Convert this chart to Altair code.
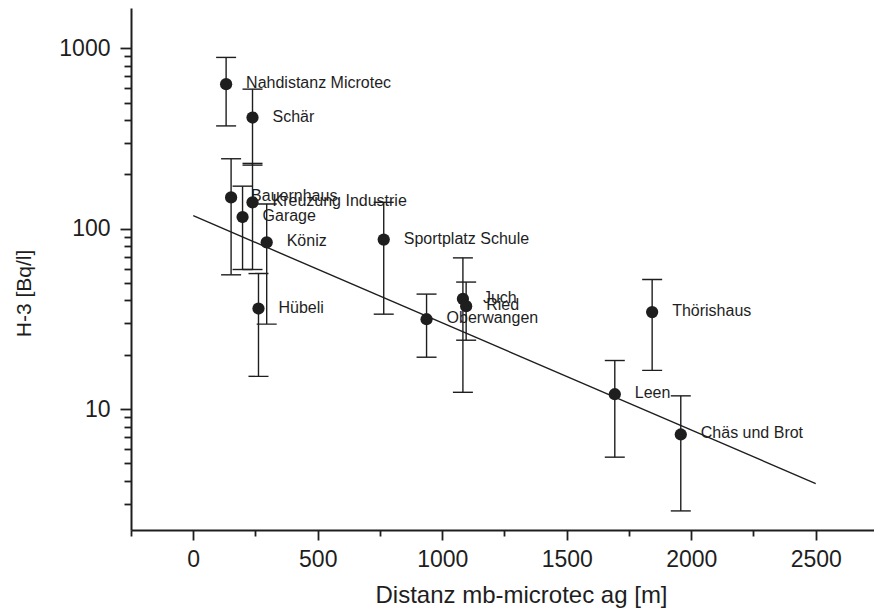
import altair as alt
import pandas as pd

names = ["Nahdistanz Microtec", "Schär", "Bauernhaus", "Kreuzung Industrie", "Garage",
         "Köniz", "Hübeli", "Sportplatz Schule", "Oberwangen", "Juch", "Ried",
         "Thörishaus", "Leen", "Chäs und Brot"]
dist = [132, 238, 152, 238, 198, 295, 262, 765, 937, 1083, 1096, 1843, 1693, 1958]
h3 = [632, 413, 149, 140, 116, 84, 36.1, 87, 31.5, 40.8, 37.2, 34.5, 12.1, 7.24]
err_hi = [889, 593, 244, 230, 172, 137, 56.4, 140, 43.4, 68.9, 50.6, 52.3, 18.6, 11.85]
err_lo = [371, 225, 55.5, 59.4, 59.4, 29.6, 15.2, 33.6, 19.4, 12.4, 24.1, 16.4, 5.42, 2.73]

fit_x = [0, 2500]
fit_y = [118, 3.87]

x_ticks = [-250, 0, 250, 500, 750, 1000, 1250, 1500, 1750, 2000, 2250, 2500]
y_ticks = [3, 4, 5, 6, 7, 8, 9, 10, 20, 30, 40, 50, 60, 70, 80, 90,
           100, 200, 300, 400, 500, 600, 700, 800, 900, 1000]

df = pd.DataFrame({"name": names, "dist": dist, "h3": h3, "hi": err_hi, "lo": err_lo})
fit = pd.DataFrame({"dist": fit_x, "h3": fit_y})

FONT = "Liberation Sans"
INK = "#1e1e1e"

xscale = alt.Scale(domain=[-250, 2734], nice=False, zero=False)
yscale = alt.Scale(type="log", domain=[2.14, 1670], nice=False)

x_axis = alt.Axis(
    values=x_ticks,
    labelExpr="datum.value % 500 == 0 && datum.value >= 0 ? datum.label : ''",
    tickSize={"condition": {"test": "datum.value % 500 == 0", "value": 10}, "value": 6},
    labelOverlap=False, grid=False,
    domainColor=INK, domainWidth=2, tickColor=INK, tickWidth=1.8,
    labelFont=FONT, labelFontSize=23, labelColor=INK, labelPadding=8,
    title="Distanz mb-microtec ag [m]", titleFont=FONT, titleFontSize=24,
    titleFontWeight="normal", titleColor=INK,
    titleX=390, titleY=65, titleBaseline="middle", titleAlign="center",
    format="d",
)
y_axis = alt.Axis(
    values=y_ticks,
    labelExpr="indexof([10, 100, 1000], datum.value) >= 0 ? datum.label : ''",
    tickSize={"condition": {"test": "indexof([10, 100, 1000], datum.value) >= 0", "value": 11},
              "value": 7},
    labelOverlap=False, grid=False,
    domainColor=INK, domainWidth=2, tickColor=INK, tickWidth=1.8,
    labelFont=FONT, labelFontSize=23, labelColor=INK, labelPadding=10,
    title="H-3 [Bq/l]", titleFont=FONT, titleFontSize=21, titleFontWeight="normal",
    titleColor=INK, titleX=-107, titleY=285, titleBaseline="middle", titleAlign="center",
    format="d",
)

base = alt.Chart(df)

bars = base.mark_rule(color=INK, strokeWidth=1.4).encode(
    x=alt.X("dist:Q", scale=xscale, axis=x_axis),
    y=alt.Y("lo:Q", scale=yscale, axis=y_axis),
    y2="hi:Q",
)

caps = base.transform_fold(["hi", "lo"], as_=["end", "val"]).mark_tick(
    orient="horizontal", size=20, thickness=1.4, color=INK, opacity=1
).encode(
    x=alt.X("dist:Q", scale=xscale),
    y=alt.Y("val:Q", scale=yscale),
)

line = alt.Chart(fit).mark_line(color=INK, strokeWidth=1.4).encode(
    x=alt.X("dist:Q", scale=xscale),
    y=alt.Y("h3:Q", scale=yscale),
)

points = base.mark_circle(size=150, color=INK, opacity=1).encode(
    x=alt.X("dist:Q", scale=xscale),
    y=alt.Y("h3:Q", scale=yscale),
)

labels = base.mark_text(align="left", baseline="middle", dx=20, dy=-1,
                        font=FONT, fontSize=16, color=INK).encode(
    x=alt.X("dist:Q", scale=xscale),
    y=alt.Y("h3:Q", scale=yscale),
    text="name:N",
)

chart = alt.layer(bars, caps, line, points, labels).properties(
    width=743, height=522,
    padding={"left": 123, "top": 0, "right": 0, "bottom": 78},
    autosize=alt.AutoSizeParams(type="none"),
    background="white",
).configure_view(stroke="transparent")

chart.save("out.html", embed_options={"renderer": "svg", "actions": False})
